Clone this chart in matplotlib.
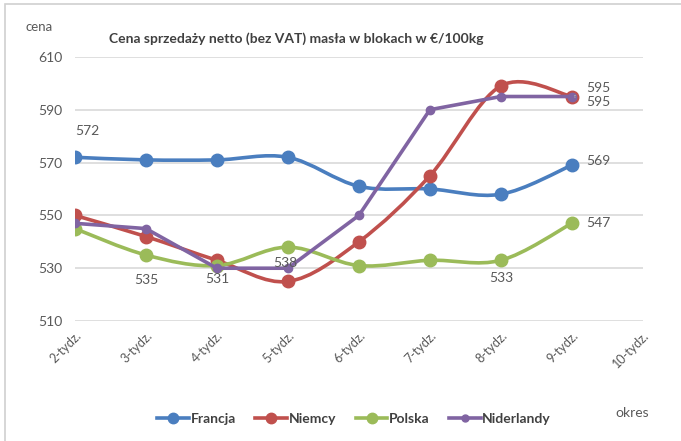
import numpy as np
import matplotlib.pyplot as plt
from matplotlib.path import Path
from matplotlib.patches import PathPatch, Rectangle
from matplotlib.lines import Line2D

plt.rcParams['font.family'] = ['Lato', 'DejaVu Sans']

weeks = ['2-tydz.', '3-tydz.', '4-tydz.', '5-tydz.', '6-tydz.',
         '7-tydz.', '8-tydz.', '9-tydz.', '10-tydz.']
francja = [572, 571, 571, 572, 561, 560, 558, 569]
niemcy = [550, 542, 533, 525, 540, 565, 599, 595]
polska = [545, 535, 531, 538, 531, 533, 533, 547]
niderlandy = [547, 545, 530, 530, 550, 590, 595, 595]

c_fr = '#4a7ebf'
c_de = '#c0504d'
c_pl = '#9bbb59'
c_nl = '#8064a2'
gray = '#595959'


def smooth_path(xs, ys):
    # excel-like smoothed line: cubic bezier through the points
    n = len(xs)
    verts = [(xs[0], ys[0])]
    codes = [Path.MOVETO]
    for i in range(n - 1):
        x0, y0 = xs[max(i - 1, 0)], ys[max(i - 1, 0)]
        x1, y1 = xs[i], ys[i]
        x2, y2 = xs[i + 1], ys[i + 1]
        x3, y3 = xs[min(i + 2, n - 1)], ys[min(i + 2, n - 1)]
        verts += [(x1 + (x2 - x0) / 6, y1 + (y2 - y0) / 6),
                  (x2 - (x3 - x1) / 6, y2 - (y3 - y1) / 6),
                  (x2, y2)]
        codes += [Path.CURVE4] * 3
    return Path(verts, codes)


fig = plt.figure(figsize=(6.81, 4.41), dpi=100)
ax = fig.add_axes([0.110, 0.272, 0.834, 0.599])

x = np.arange(len(francja))
for vals, col in [(francja, c_fr), (niemcy, c_de), (polska, c_pl)]:
    ax.add_patch(PathPatch(smooth_path(x, vals), fill=False, edgecolor=col,
                           lw=2.6, capstyle='round', zorder=3))
    ax.plot(x, vals, 'o', color=col, ms=9, zorder=4)
ax.plot(x, niderlandy, '-o', color=c_nl, lw=2.6, ms=6, zorder=5)

ax.set_xlim(0, 8)
ax.set_ylim(510, 610)
ax.set_yticks(np.arange(510, 611, 20))
ax.set_xticks(np.arange(len(weeks)))
ax.set_xticklabels(weeks, rotation=45, ha='right', va='top',
                   rotation_mode='anchor', fontsize=9, color=gray)
ax.tick_params(axis='y', labelsize=10, labelcolor=gray, length=0, pad=9)
ax.tick_params(axis='x', length=0, pad=6)
ax.grid(axis='y', color='#d9d9d9', lw=1.2)
for s in ax.spines.values():
    s.set_visible(False)

lab = dict(fontsize=10, color=gray, ha='center', va='center', zorder=6)
ax.annotate('572', (0, francja[0]), xytext=(9, 19), textcoords='offset points', **lab)
ax.annotate('569', (7, francja[7]), xytext=(19, 3), textcoords='offset points', **lab)
ax.annotate('547', (7, polska[7]), xytext=(19, 0), textcoords='offset points', **lab)
ax.annotate('535', (1, polska[1]), xytext=(0, -18), textcoords='offset points', **lab)
ax.annotate('531', (2, polska[2]), xytext=(0, -10), textcoords='offset points', **lab)
ax.annotate('538', (3, polska[3]), xytext=(-2, -11.5), textcoords='offset points', **lab)
ax.annotate('533', (6, polska[6]), xytext=(0, -13), textcoords='offset points', **lab)
ax.annotate('595', (7, niemcy[7]), xytext=(19, 6), textcoords='offset points',
            arrowprops=dict(arrowstyle='-', color='#a6a6a6', lw=0.8,
                            shrinkA=6, shrinkB=2), **lab)
ax.annotate('595', (7, niderlandy[7]), xytext=(19, -4), textcoords='offset points',
            arrowprops=dict(arrowstyle='-', color='#a6a6a6', lw=0.8,
                            shrinkA=6, shrinkB=2), **lab)

fig.text(0.435, 0.912, 'Cena sprzedaży netto (bez VAT) masła w blokach w €/100kg',
         ha='center', va='center', fontsize=10, fontweight='bold', color='#404040')
fig.text(0.057, 0.938, 'cena', ha='center', va='center', fontsize=9.5, color=gray)
fig.text(0.928, 0.063, 'okres', ha='center', va='center', fontsize=10, color=gray)

handles = [Line2D([], [], color=c, lw=2.6, marker='o', ms=m)
           for c, m in [(c_fr, 7.5), (c_de, 7.5), (c_pl, 7.5), (c_nl, 5)]]
fig.legend(handles, ['Francja', 'Niemcy', 'Polska', 'Niderlandy'],
           loc='center', bbox_to_anchor=(0.52, 0.05), ncol=4, frameon=False,
           handlelength=2.3, handletextpad=0.1, columnspacing=1.4,
           prop=dict(size=10, weight='bold'), labelcolor='#404040')

fig.add_artist(Rectangle((5 / 681, -0.1), 1.2, 1.1 - 4 / 441,
                         transform=fig.transFigure, fill=False,
                         edgecolor='#d0d0d0', lw=1.2))

plt.savefig('out.png', dpi=100)
